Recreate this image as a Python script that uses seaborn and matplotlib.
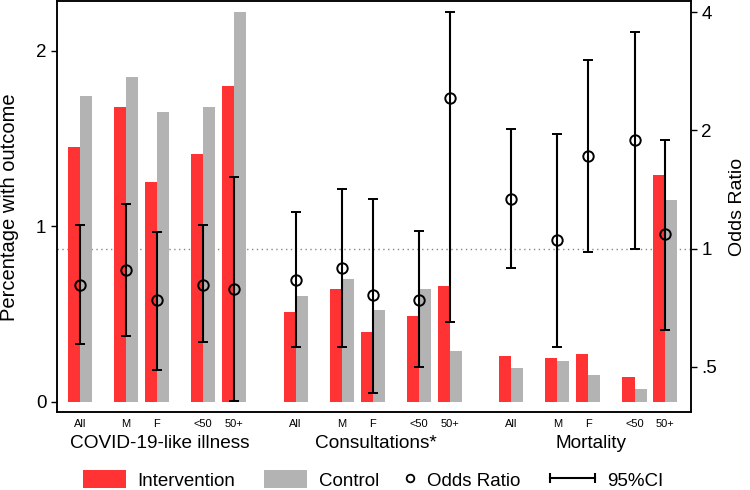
import numpy as np
import pandas as pd
import seaborn as sns
import matplotlib.pyplot as plt
from matplotlib.patches import Patch
from matplotlib.lines import Line2D
from matplotlib.legend_handler import HandlerLine2D

#Data
groups = ["COVID-19-like illness", "Consultations*", "Mortality"]
subgroups = ["All", "M", "F", "<50", "50+"]

covid_int = [1.45, 1.68, 1.25, 1.41, 1.80]
covid_ctl = [1.74, 1.85, 1.65, 1.68, 2.22]
consult_int = [0.51, 0.64, 0.40, 0.49, 0.66]
consult_ctl = [0.60, 0.70, 0.52, 0.64, 0.29]
mort_int = [0.26, 0.25, 0.27, 0.14, 1.29]
mort_ctl = [0.19, 0.23, 0.15, 0.07, 1.15]

covid_or = [0.81, 0.88, 0.74, 0.81, 0.79]
covid_lo = [0.57, 0.60, 0.49, 0.58, 0.41]
covid_hi = [1.15, 1.30, 1.10, 1.15, 1.52]
consult_or = [0.83, 0.89, 0.76, 0.74, 2.42]
consult_lo = [0.56, 0.56, 0.43, 0.50, 0.65]
consult_hi = [1.24, 1.42, 1.34, 1.11, 4.01]
mort_or = [1.34, 1.05, 1.72, 1.89, 1.09]
mort_lo = [0.89, 0.56, 0.98, 1.00, 0.62]
mort_hi = [2.02, 1.96, 3.02, 3.56, 1.89]

red = "#FF3333"
grey = "#B3B3B3"

plt.rcParams['font.family'] = ['Liberation Sans', 'DejaVu Sans']

#Layout of the bar pairs: subgroups spaced within a group, groups spaced apart
sub_offset = np.array([0, 3, 5, 8, 10])
group_step = 14
pos = np.concatenate([g * group_step + sub_offset for g in range(len(groups))])

pct_int = covid_int + consult_int + mort_int
pct_ctl = covid_ctl + consult_ctl + mort_ctl
odds = np.array(covid_or + consult_or + mort_or)
odds_lo = np.array(covid_lo + consult_lo + mort_lo)
odds_hi = np.array(covid_hi + consult_hi + mort_hi)

df = pd.DataFrame({
    "pos": np.concatenate([pos, pos]),
    "pct": pct_int + pct_ctl,
    "arm": ["Intervention"] * len(pos) + ["Control"] * len(pos),
})

pct_lim = (-0.06, 2.28)
or_lim = (0.383, 4.26)

fig, ax = plt.subplots(figsize=(7.5, 4.9), dpi=100)
fig.subplots_adjust(left=0.0756, right=0.921, top=0.997, bottom=0.1586)

sns.barplot(
    data=df, x="pos", y="pct", hue="arm",
    hue_order=["Intervention", "Control"],
    palette={"Intervention": red, "Control": grey},
    native_scale=True, width=0.78, saturation=1, linewidth=0,
    legend=False, ax=ax, zorder=2
)

ax.set_xlim(-1.5, 39.65)
ax.set_ylim(*pct_lim)
ax.set_yticks([0, 1, 2])
ax.set_xticks(pos)
ax.set_xticklabels(subgroups * len(groups), fontsize=8)
ax.tick_params(axis="x", length=0, pad=4.5)
ax.tick_params(axis="y", length=4.5, width=1, labelsize=13.5, pad=3)
ax.set_xlabel("")
ax.set_ylabel("Percentage with outcome", fontsize=14.5)
ax.yaxis.set_label_coords(-0.059, 0.5)

#Reference line at OR = 1, placed through the two scales
f = (np.log2(1) - np.log2(or_lim[0])) / (np.log2(or_lim[1]) - np.log2(or_lim[0]))
ref_y = pct_lim[0] + f * (pct_lim[1] - pct_lim[0])
ax.axhline(ref_y, color="#888888", lw=1, ls=(0, (1, 2.5)), zorder=1)

for g, name in enumerate(groups):
    ax.text(g * group_step + sub_offset.mean(), -0.075, name, fontsize=13.7,
            ha="center", va="center", transform=ax.get_xaxis_transform())

#Odds ratios on right axis
ax2 = ax.twinx()
ax2.set_yscale("log", base=2)
ax2.errorbar(
    pos, odds, yerr=[odds - odds_lo, odds_hi - odds],
    fmt="o", ms=7.5, mfc="none", mec="black", mew=1.4,
    ecolor="black", elinewidth=1.5, capsize=3.6, capthick=1.5
)
ax2.set_ylim(*or_lim)
ax2.set_yticks([0.5, 1, 2, 4])
ax2.set_yticklabels([".5", "1", "2", "4"])
ax2.minorticks_off()
ax2.tick_params(axis="y", length=4.5, width=1, labelsize=13.5, pad=3)
ax2.set_ylabel("Odds Ratio", fontsize=14, rotation=90)
ax2.yaxis.set_label_coords(1.061, 0.5)

for a in (ax, ax2):
    for s in a.spines.values():
        s.set_color("black")
        s.set_linewidth(1.1)

#Legend: separate pieces so the marker entry can have a short handle
leg_kw = dict(loc="center left", frameon=False, fontsize=13.5, borderpad=0,
              borderaxespad=0, handleheight=1.07, handletextpad=0.64,
              columnspacing=1.5)
ci_handle = Line2D([], [], color="black", lw=1.5, marker="|", ms=7, mew=1.5)
leg1 = fig.legend(
    [Patch(facecolor=red, edgecolor="none"), Patch(facecolor=grey, edgecolor="none")],
    ["Intervention", "Control"], ncol=2, bbox_to_anchor=(0.110, 0.0204),
    handlelength=2.3, **leg_kw)
leg2 = fig.legend(
    [Line2D([], [], marker="o", ls="none", mfc="none", mec="black", ms=5.5, mew=1.3)],
    ["Odds Ratio"], bbox_to_anchor=(0.541, 0.0204), handlelength=0.5, **leg_kw)
leg3 = fig.legend(
    [ci_handle], ["95%CI"], bbox_to_anchor=(0.733, 0.0204), handlelength=2.4,
    handler_map={ci_handle: HandlerLine2D(numpoints=2, marker_pad=0)}, **leg_kw)

plt.savefig("out.png", dpi=100)
